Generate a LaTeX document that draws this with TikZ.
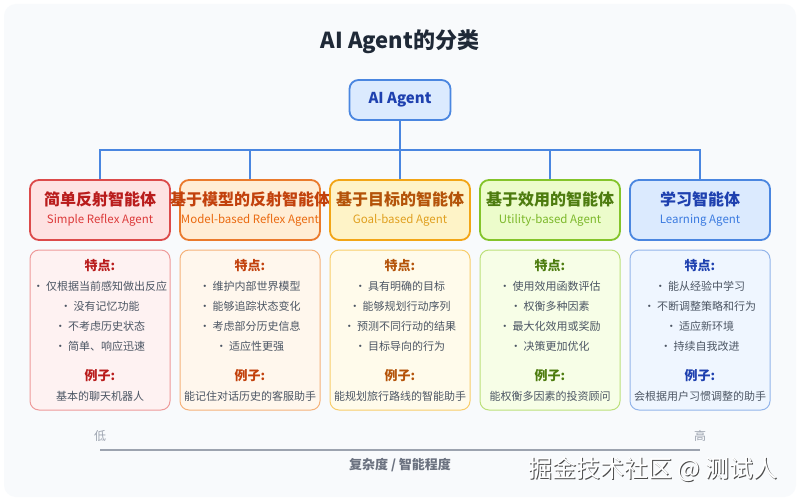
\documentclass[tikz,border=0pt]{standalone}
\usepackage{fontspec}
\setmainfont{Noto Sans CJK SC}
\setsansfont{Noto Sans CJK SC}
\usetikzlibrary{positioning}
\definecolor{bgc}{HTML}{F8FAFC}
\definecolor{titlec}{HTML}{1F2937}
\definecolor{itemc}{HTML}{4B5563}
\definecolor{axisc}{HTML}{9CA3AF}
\definecolor{axislab}{HTML}{6B7280}
\definecolor{linkc}{HTML}{4A86E0}
% column 1 red
\definecolor{b1}{HTML}{DC4A4A}\definecolor{f1}{HTML}{FEE2E2}\definecolor{t1}{HTML}{B91C1C}\definecolor{s1}{HTML}{DC3A3A}\definecolor{lb1}{HTML}{EE9A9A}\definecolor{lf1}{HTML}{FEF2F2}
% column 2 orange
\definecolor{b2}{HTML}{EA7A2C}\definecolor{f2}{HTML}{FFEDD5}\definecolor{t2}{HTML}{C2410C}\definecolor{s2}{HTML}{EA6A10}\definecolor{lb2}{HTML}{F5B27A}\definecolor{lf2}{HTML}{FFF7ED}
% column 3 amber
\definecolor{b3}{HTML}{F2A516}\definecolor{f3}{HTML}{FEF3C7}\definecolor{t3}{HTML}{B45309}\definecolor{s3}{HTML}{E0A020}\definecolor{lb3}{HTML}{F8CD6A}\definecolor{lf3}{HTML}{FFFBEB}
% column 4 green
\definecolor{b4}{HTML}{84C42A}\definecolor{f4}{HTML}{ECFCCB}\definecolor{t4}{HTML}{4D7C0F}\definecolor{s4}{HTML}{7CB82A}\definecolor{lb4}{HTML}{BCE07A}\definecolor{lf4}{HTML}{F7FEE7}
% column 5 blue
\definecolor{b5}{HTML}{4A86E0}\definecolor{f5}{HTML}{DBEAFE}\definecolor{t5}{HTML}{1E40AF}\definecolor{s5}{HTML}{3B7BE0}\definecolor{lb5}{HTML}{93B5EA}\definecolor{lf5}{HTML}{EFF6FF}
\tikzset{
  catbox/.style={draw=b#1, fill=f#1, line width=1.8pt, rounded corners=9pt, minimum width=140pt, minimum height=60pt, inner sep=0pt},
  detbox/.style={draw=lb#1, fill=lf#1, line width=1pt, rounded corners=9pt, minimum width=140pt, minimum height=160pt, inner sep=0pt},
  cattitle/.style={font=\fontsize{16}{18}\selectfont\bfseries, text=t#1, inner sep=0pt},
  catsub/.style={font=\fontsize{11.5}{13}\selectfont, text=s#1, inner sep=0pt},
  dethead/.style={font=\fontsize{13}{15}\selectfont\bfseries, text=t#1, inner sep=0pt},
  detitem/.style={font=\fontsize{11}{13}\selectfont, text=itemc, inner sep=0pt},
  link/.style={draw=linkc, line width=1.5pt},
}
\begin{document}
\begin{tikzpicture}[x=1pt,y=-1pt]
\useasboundingbox (0,0) rectangle (800,500);
\fill[white] (0,0) rectangle (800,500);
\fill[bgc, rounded corners=12pt] (4,4) rectangle (796,497);
\node[font=\fontsize{22}{25}\selectfont\bfseries, text=titlec] (title) at (400,42) {AI Agent的分类};
\node[draw=b5, fill=f5, line width=1.8pt, rounded corners=9pt, minimum width=101pt, minimum height=40pt, font=\fontsize{15}{17}\selectfont\bfseries, text=t5] (root) at (400,100) {AI Agent};
\coordinate (bar) at (400,150);
\foreach \i/\cx/\t/\s/\a/\b/\c/\d/\e in {
 1/100/简单反射智能体/Simple Reflex Agent/仅根据当前感知做出反应/没有记忆功能/不考虑历史状态/简单、响应迅速/基本的聊天机器人,
 2/250/基于模型的反射智能体/Model-based Reflex Agent/维护内部世界模型/能够追踪状态变化/考虑部分历史信息/适应性更强/能记住对话历史的客服助手,
 3/400/基于目标的智能体/Goal-based Agent/具有明确的目标/能够规划行动序列/预测不同行动的结果/目标导向的行为/能规划旅行路线的智能助手,
 4/550/基于效用的智能体/Utility-based Agent/使用效用函数评估/权衡多种因素/最大化效用或奖励/决策更加优化/能权衡多因素的投资顾问,
 5/700/学习智能体/Learning Agent/能从经验中学习/不断调整策略和行为/适应新环境/持续自我改进/会根据用户习惯调整的助手}{
  \node[catbox=\i] (cat\i) at (\cx,210) {};
  \node[cattitle=\i] (ct\i) at (\cx,199) {\t};
  \node[catsub=\i] (cs\i) at (\cx,220) {\s};
  \draw[link] (root.south) -- (bar) -| (cat\i.north);
  \node[detbox=\i] (det\i) at (\cx,330) {};
  \node[dethead=\i] (dh\i) at (\cx,266) {特点:};
  \node[detitem] (da\i) at (\cx,286) {• \a};
  \node[detitem] (db\i) at (\cx,306) {• \b};
  \node[detitem] (dc\i) at (\cx,326) {• \c};
  \node[detitem] (dd\i) at (\cx,346) {• \d};
  \node[dethead=\i] (dx\i) at (\cx,376) {例子:};
  \node[detitem] (de\i) at (\cx,396) {\e};
}
\node[font=\fontsize{12}{14}\selectfont, text=axisc] (low) at (100,436) {低};
\node[font=\fontsize{12}{14}\selectfont, text=axisc] (high) at (700,436) {高};
\coordinate (axl) at (100,450);
\coordinate (axr) at (700,450);
\draw[axisc, line width=2pt] (axl) -- (axr);
\node[font=\fontsize{13}{15}\selectfont\bfseries, text=axislab] (axlab) at (400,465) {复杂度 / 智能程度};
\node[font=\fontsize{24}{26}\selectfont, text=black!70] (wms) at (654,470) {掘金技术社区 @ 测试人};
\node[font=\fontsize{24}{26}\selectfont, text=white] (wm) at (653,469) {掘金技术社区 @ 测试人};
\end{tikzpicture}
\end{document}
